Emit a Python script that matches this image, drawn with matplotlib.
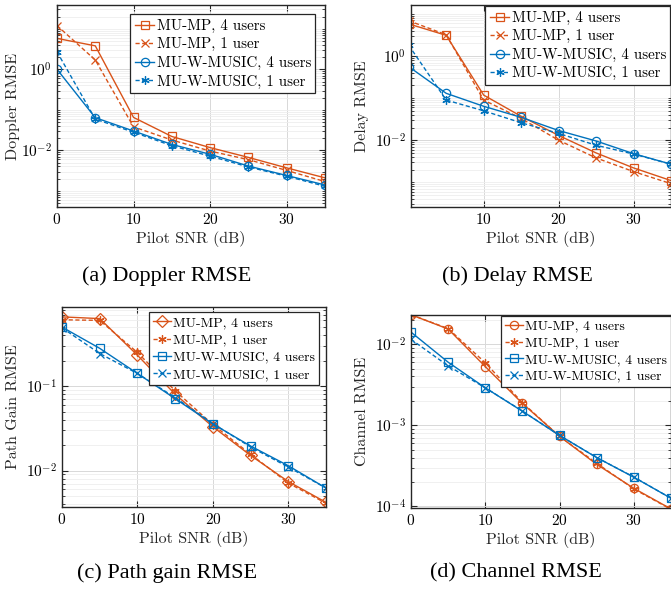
import matplotlib.pyplot as plt
import numpy as np
from matplotlib.ticker import FixedLocator, LogLocator, NullFormatter

plt.rcParams['font.family'] = ['cmr10', 'DejaVu Serif']
plt.rcParams['mathtext.fontset'] = 'cm'
plt.rcParams['axes.formatter.use_mathtext'] = True

snr = [0, 5, 10, 15, 20, 25, 30, 35]

# (a) Doppler RMSE
dop_mp4 = [5.8, 3.8, 0.065, 0.022, 0.0117, 0.0067, 0.0037, 0.0021]
dop_mp1 = [12.0, 1.7, 0.038, 0.018, 0.0096, 0.0059, 0.0032, 0.0017]
dop_mu4 = [1.0, 0.064, 0.030, 0.014, 0.0080, 0.0041, 0.0024, 0.0014]
dop_mu1 = [2.7, 0.059, 0.028, 0.013, 0.0072, 0.0039, 0.0023, 0.0013]

# (b) Delay RMSE
del_mp4 = [5.8, 3.1, 0.118, 0.037, 0.013, 0.0050, 0.0022, 0.0011]
del_mp1 = [6.9, 3.2, 0.090, 0.033, 0.010, 0.0038, 0.0018, 0.00093]
del_mu4 = [0.56, 0.13, 0.064, 0.035, 0.017, 0.0096, 0.0048, 0.0027]
del_mu1 = [1.8, 0.090, 0.050, 0.026, 0.0145, 0.0076, 0.0047, 0.0027]

# (c) Path gain RMSE
pg_mp4 = [0.66, 0.63, 0.232, 0.080, 0.033, 0.0151, 0.0074, 0.0042]
pg_mp1 = [0.61, 0.60, 0.25, 0.088, 0.035, 0.0156, 0.0071, 0.0041]
pg_mu4 = [0.50, 0.28, 0.141, 0.071, 0.0356, 0.0195, 0.0114, 0.0062]
pg_mu1 = [0.49, 0.243, 0.141, 0.073, 0.036, 0.019, 0.011, 0.0062]

# (d) Channel RMSE
ch_mp4 = [0.0231, 0.0154, 0.0053, 0.00186, 0.00073, 0.00033, 0.000167, 9.3e-5]
ch_mp1 = [0.0231, 0.0156, 0.0059, 0.0019, 0.00073, 0.00034, 0.000164, 9.2e-5]
ch_mu4 = [0.0141, 0.0060, 0.0029, 0.00149, 0.00075, 0.00040, 0.000229, 0.000126]
ch_mu1 = [0.0115, 0.0054, 0.0029, 0.0015, 0.00075, 0.00040, 0.00023, 0.000126]

labels = ['MU-MP, 4 users', 'MU-MP, 1 user', 'MU-W-MUSIC, 4 users', 'MU-W-MUSIC, 1 user']
orange = '#D95319'
blue = '#0072BD'
ast = (6, 2, 0)  # matlab-like asterisk

fig = plt.figure(figsize=(6.71, 5.93), dpi=100)


def panel(rect, series, markers, ylabel, ylim, yticks, xlim, xticks,
          leg_anchor, leg_fs, leg_sp, ylab_x):
    ax = fig.add_axes(rect)
    styles = ['-', '--', '-', '--']
    colors = [orange, orange, blue, blue]
    for y, m, ls, c, lab in zip(series, markers, styles, colors, labels):
        ax.plot(snr, y, ls=ls, color=c, marker=m, ms=6, mfc='none', mew=0.9,
                lw=1.0, label=lab, dashes=(3, 1.8) if ls == '--' else (None, None))
    ax.set_yscale('log')
    ax.set_xlim(*xlim)
    ax.set_ylim(*ylim)
    ax.set_xticks(xticks)
    ax.yaxis.set_major_locator(FixedLocator(yticks))
    ax.yaxis.set_minor_locator(LogLocator(base=10, subs=np.arange(1, 10), numticks=30))
    ax.yaxis.set_minor_formatter(NullFormatter())
    ax.grid(True, which='major', color='#d8d8d8', lw=0.7)
    ax.grid(True, which='minor', axis='y', color='#eeeeee', lw=0.6)
    ax.set_axisbelow(True)
    ax.tick_params(which='both', direction='in', top=True, right=True,
                   labelsize=11, color='#262626')
    ax.tick_params(which='major', length=4)
    ax.tick_params(which='minor', length=2)
    for s in ax.spines.values():
        s.set_color('#262626')
        s.set_linewidth(1.0)
    ax.set_xlabel('Pilot SNR (dB)', fontsize=11.5, color='#262626', labelpad=3)
    ax.set_ylabel(ylabel, fontsize=11.5, color='#262626')
    ax.yaxis.set_label_coords(ylab_x, 0.5)
    leg = ax.legend(loc='upper right', bbox_to_anchor=leg_anchor, fontsize=leg_fs,
                    handlelength=1.3, handletextpad=0.15, borderpad=0.3,
                    labelspacing=leg_sp, borderaxespad=0.0, fancybox=False,
                    framealpha=1.0, edgecolor='#262626')
    leg.get_frame().set_linewidth(0.9)
    return ax


panel([0.085, 0.651, 0.399, 0.340],
      [dop_mp4, dop_mp1, dop_mu4, dop_mu1], ['s', 'x', 'o', ast],
      'Doppler RMSE', (4e-4, 38), [1e-2, 1e0], (0, 35), [0, 10, 20, 30],
      (0.965, 0.955), 10.8, 0.3, -0.14)
panel([0.6125, 0.651, 0.3875, 0.340],
      [del_mp4, del_mp1, del_mu4, del_mu1], ['s', 'x', 'o', ast],
      'Delay RMSE', (2.6e-4, 16), [1e-2, 1e0], (0.3, 35), [10, 20, 30],
      (0.998, 0.995), 10.8, 0.3, -0.16)
panel([0.0924, 0.145, 0.3935, 0.337],
      [pg_mp4, pg_mp1, pg_mu4, pg_mu1], ['D', ast, 's', 'x'],
      'Path Gain RMSE', (3.7e-3, 0.86), [1e-2, 1e-1], (0, 35), [0, 10, 20, 30],
      (0.975, 0.975), 9.9, 0.35, -0.16)
panel([0.6125, 0.143, 0.3875, 0.326],
      [ch_mp4, ch_mp1, ch_mu4, ch_mu1], ['o', ast, 's', 'x'],
      'Channel RMSE', (9.5e-5, 0.023), [1e-4, 1e-3, 1e-2], (0, 35), [0, 10, 20, 30],
      (1.0, 0.995), 9.9, 0.3, -0.16)

cap = dict(fontsize=16, family='Liberation Serif', ha='center', va='center')
fig.text(167 / 671, 1 - 276 / 593, '(a) Doppler RMSE', **cap)
fig.text(517 / 671, 1 - 276 / 593, '(b) Delay RMSE', **cap)
fig.text(167 / 671, 1 - 573 / 593, '(c) Path gain RMSE', **cap)
fig.text(516 / 671, 1 - 573 / 593, '(d) Channel RMSE', **cap)

fig.savefig('out.png', dpi=100)
